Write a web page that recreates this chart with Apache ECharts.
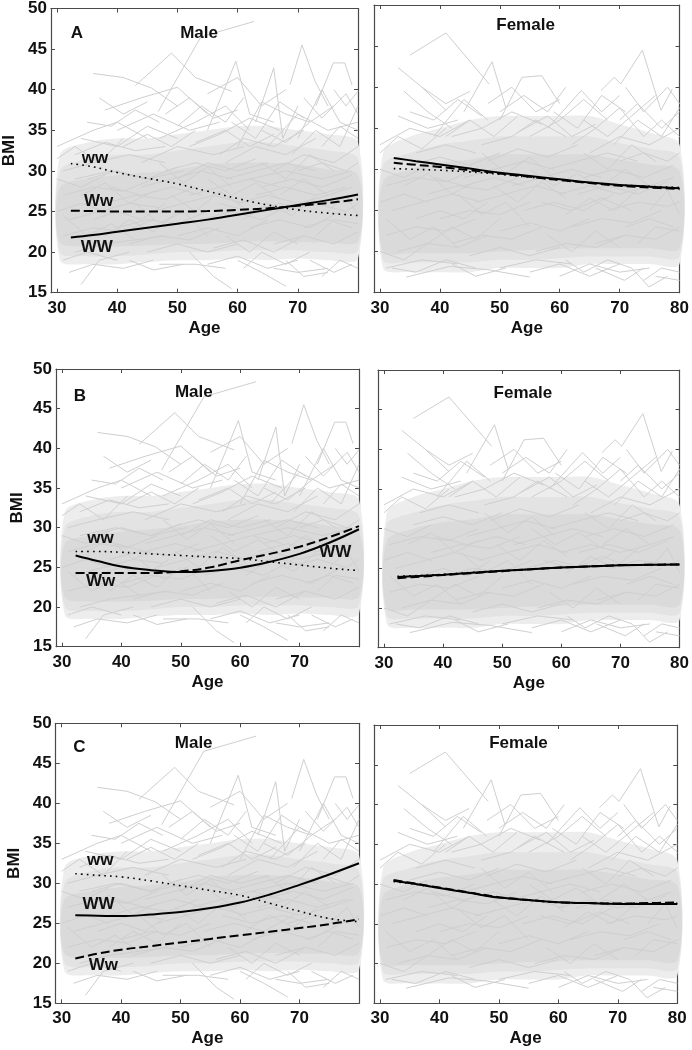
<!DOCTYPE html>
<html><head><meta charset="utf-8">
<script src="https://cdn.jsdelivr.net/npm/echarts@6/dist/echarts.min.js"></script>
<style>html,body{margin:0;padding:0;background:#fff}#c{width:692px;height:1050px}</style>
</head><body><div id="c"></div>
<script>
// ---------- DATA ----------
const curveAges = [32.3, 36, 40, 45, 50, 55, 60, 65, 70, 75, 80];
// Model A
const A_male_WW   = [21.8, 22.1, 22.5, 23.0, 23.5, 24.0, 24.6, 25.2, 25.8, 26.4, 27.1];
const A_male_Ww   = [25.1, 25.05, 25.0, 25.0, 25.0, 25.05, 25.2, 25.4, 25.7, 26.05, 26.5];
const A_male_ww   = [30.9, 30.5, 29.8, 29.1, 28.4, 27.5, 26.6, 25.8, 25.2, 24.8, 24.5];
const A_female_WW = [31.4, 31.0, 30.6, 30.1, 29.6, 29.2, 28.8, 28.4, 28.1, 27.9, 27.7];
const A_female_Ww = [30.8, 30.55, 30.3, 29.9, 29.5, 29.1, 28.7, 28.35, 28.0, 27.8, 27.6];
const A_female_ww = [30.1, 30.0, 29.9, 29.7, 29.4, 29.05, 28.7, 28.4, 28.1, 27.95, 27.8];
// Model B
const B_male_WW   = [26.5, 25.8, 25.1, 24.65, 24.4, 24.55, 24.95, 25.7, 26.7, 28.1, 29.8];
const B_male_Ww   = [24.3, 24.3, 24.3, 24.3, 24.5, 25.0, 25.9, 26.7, 27.6, 28.8, 30.2];
const B_male_ww   = [27.0, 27.0, 26.9, 26.7, 26.5, 26.3, 26.1, 25.7, 25.3, 24.9, 24.6];
const B_female_WW = [23.9, 24.05, 24.2, 24.45, 24.7, 24.9, 25.1, 25.25, 25.4, 25.45, 25.5];
const B_female_Ww = [23.75, 23.95, 24.15, 24.4, 24.65, 24.9, 25.1, 25.25, 25.4, 25.45, 25.5];
const B_female_ww = [24.0, 24.1, 24.25, 24.5, 24.7, 24.9, 25.1, 25.25, 25.4, 25.45, 25.5];
// Model C
const C_male_WW   = [26.0, 25.95, 25.9, 26.1, 26.4, 26.9, 27.6, 28.6, 29.8, 31.1, 32.5];
const C_male_Ww   = [20.6, 21.2, 21.7, 22.15, 22.6, 23.05, 23.5, 23.95, 24.4, 24.9, 25.5];
const C_male_ww   = [31.2, 31.0, 30.8, 30.3, 29.7, 29.1, 28.5, 27.5, 26.5, 25.6, 25.2];
const C_female_WW = [30.4, 30.0, 29.5, 28.9, 28.3, 28.0, 27.7, 27.6, 27.5, 27.5, 27.5];
const C_female_Ww = [30.5, 30.05, 29.55, 28.95, 28.35, 28.0, 27.7, 27.6, 27.55, 27.6, 27.7];
const C_female_ww = [30.3, 29.95, 29.5, 28.9, 28.3, 27.95, 27.7, 27.6, 27.55, 27.55, 27.6];

// Dense region of the individual trajectories (envelopes, three density levels)
const bandAges = [30.5, 35, 40, 45, 50, 55, 60, 65, 70, 75, 80];
const maleOuterLow  = [19, 18.5, 18.5, 18.8, 19, 19, 19.2, 19, 19.2, 19, 19.2];
const maleOuterHigh = [32, 33.5, 34, 34, 34.5, 35, 35.5, 35.5, 35, 34.5, 33.5];
const maleMidLow    = [20, 19.5, 19.5, 19.7, 20, 20, 20.2, 20.2, 20.2, 20, 20.2];
const maleMidHigh   = [30, 31.5, 32, 32, 32.5, 33, 33.5, 33.5, 33, 32.5, 31.5];
const maleInnerLow  = [21.2, 20.7, 20.7, 20.8, 21, 21, 21.2, 21.3, 21.2, 21.2, 21.3];
const maleInnerHigh = [28, 29, 29.5, 29.8, 30.2, 30.8, 31, 31, 30.8, 30.2, 29.5];
const femaleOuterLow  = [18, 17.5, 17.5, 17.5, 18, 18, 18, 18.5, 18.5, 18.5, 18.5];
const femaleOuterHigh = [32, 34, 35, 36, 36.5, 36.5, 36.5, 36.5, 35.5, 34.5, 33];
const femaleMidLow    = [19, 18.7, 18.7, 18.7, 19, 19, 19.2, 19.4, 19.4, 19.4, 19.4];
const femaleMidHigh   = [30.5, 32, 33, 33.5, 34, 34, 34, 34, 33.2, 32.5, 31.5];
const femaleInnerLow  = [20, 19.8, 19.8, 19.8, 20, 20.2, 20.3, 20.4, 20.4, 20.4, 20.4];
const femaleInnerHigh = [28.5, 30, 30.8, 31.2, 31.8, 31.8, 31.8, 31.8, 31.2, 30.6, 29.8];

// Individual trajectories [age, BMI]
const maleLines = [
 [[46.8,37.3],[53.9,46.5],[62.7,48.4]],
 [[43,40.5],[49,44.5],[53,41.5],[59,39.8]],
 [[36,42],[41,41.5],[45.7,40.2],[50,38]],
 [[55,35],[59.7,43.5],[62,37],[66,36]],
 [[63,36],[66,42.7],[67.5,34],[70,38]],
 [[68.7,40.6],[70.7,45.5],[72.9,41],[75,38]],
 [[73,38],[75.9,43.3],[77.8,43.3],[79,40.6]],
 [[38,37.5],[44,39],[50,40.3],[55,37]],
 [[55,39.5],[60,41.5],[64,38],[68,40]],
 [[60,33],[64,38.5],[68,37],[72,36]],
 [[30,33],[36,35],[40,36],[45,34]],
 [[47,34],[53,36],[58,38],[62,35]],
 [[65,33],[70,37],[75,35],[80,36]],
 [[34,34],[40,33],[45,35.5],[50,34]],
 [[70,34],[74,40],[77,36],[80,35]],
 [[40,35],[46,37],[52,35],[57,36]],
 [[52,33],[57,34.5],[62,36.5],[67,35]],
 [[33,32],[38,33.5],[43,32.5],[48,33]],
 [[57,32],[61,34],[66,33],[71,35]],
 [[74,33],[77,35.5],[80,34]],
 [[31,30],[36,31],[42,32],[48,31]],
 [[44,31],[50,33],[56,32],[61,33]],
 [[58,31],[63,33],[68,32],[73,34]],
 [[66,30],[71,32],[76,31],[80,33]],
 [[33,29],[39,30],[45,29],[51,30]],
 [[50,29],[55,31],[60,30],[65,31]],
 [[62,29],[68,30],[74,29],[79,30]],
 [[31,27],[36,28],[41,27.5],[46,29]],
 [[32,24],[37,25],[42,26],[47,25.5]],
 [[31,22],[36,23],[41,22.5],[46,24]],
 [[33,20],[38,21],[43,21.5],[48,22]],
 [[35,29],[40,30],[45,29],[50,30.5]],
 [[38,26],[43,27],[48,26.5],[53,28]],
 [[40,23],[45,24],[50,23.5],[55,25]],
 [[42,21],[47,22],[52,21.5],[57,23]],
 [[44,28],[49,29],[54,30],[59,29]],
 [[46,25],[51,26],[56,27],[61,26]],
 [[48,30],[53,31],[58,30],[63,31.5]],
 [[50,22],[55,23],[60,22],[65,24]],
 [[52,27],[57,28],[62,29],[67,28]],
 [[54,24],[59,25],[64,24],[69,26]],
 [[56,20.5],[61,21.5],[66,20],[71,22]],
 [[58,29],[63,30],[68,31],[73,30]],
 [[60,26],[65,27],[70,26],[75,27]],
 [[62,23],[67,24],[72,23],[77,25]],
 [[64,28],[69,29],[74,28],[79,29.5]],
 [[66,21],[71,22],[76,21],[80,22.5]],
 [[68,25],[73,26],[78,25],[80,26]],
 [[70,30],[74,31],[78,30],[80,31]],
 [[71,23],[75,24],[79,23]],
 [[30,25],[34,26],[38,25]],
 [[30,29],[34,28],[38,29.5]],
 [[36,24],[40,25],[44,24],[48,26]],
 [[45,20],[50,21],[55,20],[60,21]],
 [[57,26],[62,25],[67,26],[72,25]],
 [[63,27],[68,28],[73,27],[78,28]],
 [[39,28],[44,27],[49,28],[54,27]],
 [[34,16],[37,19],[42,20]],
 [[47,18.5],[53,18.5],[58,18]],
 [[52,20],[56,17],[59,15.5]],
 [[66,18],[70,17.5],[75,18]],
 [[60,19],[64,17.5],[68,15.8]],
 [[72,19],[76,17.5],[79,18.5]],
 [[31,19],[35,20],[40,19]],
 [[68,19],[71,17],[75,17.5]],
 [[30,31.5],[33,33],[37,31],[41,34]],
 [[35,36],[39,35.5],[43,37.5],[47,36]],
 [[41,33],[45,34.5],[49,33],[53,35]],
 [[48,37],[52,39],[56,36.5],[60,37.5]],
 [[53,33.5],[58,35],[62,33],[66,34.5]],
 [[59,36],[63,34],[67,38.5],[71,36.5]],
 [[64,35],[68,33.5],[72,36],[76,38]],
 [[69,32],[73,35],[77,33],[80,38]],
 [[71,39],[74,36.5],[78,39.5],[80,37]],
 [[76,40],[78,38],[80,39.8]],
 [[37,39],[41,37],[45,38.5]],
 [[50,35.5],[54,38],[58,36],[61,39]],
 [[32,17.5],[36,18.5],[41,18],[46,19]],
 [[55,18.5],[60,19.5],[65,18],[70,19]],
 [[74,17],[77,19],[80,18]],
 [[42,19],[46,17.8],[51,18.5]],
 [[61,18],[64,20],[68,18.5],[72,20]],
 [[38,22],[42,24],[46,22.5],[50,25]],
 [[43,26],[47,23.5],[51,25],[55,22]],
 [[49,27],[53,25],[57,27.5],[61,25.5]],
 [[55,29],[59,27],[63,28.5],[67,26.5]],
 [[61,24],[65,26],[69,24.5],[73,27]],
 [[67,27],[71,29],[75,27],[79,28]],
 [[73,22],[76,24],[80,23.5]],
 [[31,24.5],[35,22],[39,23.5],[43,21.5]],
 [[34,27],[38,28.5],[42,26],[46,27.5]],
 [[47,31],[51,28.5],[55,30.5],[59,28]],
 [[58,22],[62,20],[66,22.5],[70,21]],
 [[64,31],[68,29],[72,32],[76,30]],
 [[75,25],[78,27],[80,24.5]]
];
const femaleLines = [
 [[35,43.9],[41,46.6],[48.2,40.4]],
 [[33,42.4],[37,40],[41,37.2]],
 [[34,39.5],[38,37],[42,35]],
 [[44,37],[48.7,43.1],[51,37.5]],
 [[39,34],[44,38.5],[48,36]],
 [[50,36],[53.7,41.2],[57,41.4],[60,38]],
 [[58,35],[63.6,39.6],[67,37],[70,39]],
 [[66.9,39.6],[69.1,41.2],[70.2,40.4],[73.8,44.5],[76.9,37.2],[78.8,39.8]],
 [[70,36],[73,38],[77,35],[80,37]],
 [[30,33],[35,35],[40,34],[45,36]],
 [[42,34],[47,35],[52,37],[57,35.5]],
 [[55,34],[60,36],[64,38.5],[68,36]],
 [[62,33],[66,35],[70,37.5],[74,34]],
 [[33,36.5],[38,35],[43,36]],
 [[47,33],[52,34],[56,36],[61,34]],
 [[65,32],[70,34],[75,33],[80,35]],
 [[36,32],[41,33],[46,32]],
 [[74,34],[77,36],[80,34]],
 [[31,28],[36,29],[41,28.5],[46,30]],
 [[32,25],[37,26],[42,27],[47,26]],
 [[31,22],[36,23],[41,22.5],[46,24]],
 [[33,20],[38,21],[43,20.5],[48,22]],
 [[35,30.5],[40,31.5],[45,30.5],[50,32]],
 [[38,27],[43,28],[48,27.5],[53,29]],
 [[40,24],[45,25],[50,24.5],[55,26]],
 [[42,21],[47,22],[52,21.5],[57,23]],
 [[44,29],[49,30],[54,31],[59,30]],
 [[46,26],[51,27],[56,28],[61,27]],
 [[48,31],[53,32.5],[58,31.5],[63,33]],
 [[50,22.5],[55,23.5],[60,22.5],[65,24]],
 [[52,28],[57,29],[62,30],[67,29]],
 [[54,25],[59,26],[64,25],[69,27]],
 [[56,20],[61,21],[66,20.5],[71,22]],
 [[58,30],[63,31],[68,32],[73,31]],
 [[60,27],[65,28],[70,27],[75,28]],
 [[62,23],[67,24],[72,23.5],[77,25]],
 [[64,29],[69,30],[74,29],[79,30.5]],
 [[66,21],[71,22],[76,21.5],[80,23]],
 [[68,25],[73,26],[78,25.5],[80,26]],
 [[70,31],[74,32],[78,31],[80,32]],
 [[71,23],[75,24],[79,23]],
 [[30,26],[34,27],[38,26]],
 [[30,30],[34,29],[38,30.5]],
 [[36,24],[40,25],[44,24],[48,26]],
 [[45,19.5],[50,20.5],[55,19.5],[60,20.5]],
 [[57,26],[62,25],[67,26.5],[72,25]],
 [[63,27],[68,28],[73,27],[78,28.5]],
 [[39,29],[44,28],[49,29],[54,28]],
 [[34.4,16.9],[41.6,18.2],[48,17.8],[55,16.9]],
 [[66,18],[70.8,16.5],[74,18]],
 [[72,18],[74.9,15.7],[78,17]],
 [[31,18],[37,19],[43,18.5]],
 [[50,18],[56,19],[62,18.5]],
 [[60,17],[65,18.5],[70,17.5],[75,18]],
 [[76,17],[80,16.5]],
 [[30,32],[33,34],[37,32.5],[41,35]],
 [[35,37],[39,36],[43,38.5],[47,36.5]],
 [[41,34],[45,36],[49,34],[53,36.5]],
 [[48,38],[52,40],[56,37],[60,38.5]],
 [[53,34.5],[58,36.5],[62,34],[66,35.5]],
 [[59,37],[63,35],[67,39],[71,37]],
 [[64,36],[68,34],[72,36.5],[76,39]],
 [[69,33],[73,36],[77,34],[80,37.5]],
 [[71,40],[74,37],[78,40],[80,38]],
 [[37,40],[41,38],[45,39.5]],
 [[50,37],[54,39],[58,37],[61,40]],
 [[32,18],[36,17.5],[41,19],[46,18]],
 [[55,17.5],[60,18.5],[65,17],[70,18.5]],
 [[74,16.5],[77,18],[80,17.5]],
 [[42,18.5],[46,17],[51,18]],
 [[61,19],[64,17.5],[68,19],[72,18]],
 [[38,21],[42,23],[46,21.5],[50,24]],
 [[43,27],[47,24.5],[51,26],[55,23]],
 [[49,28],[53,26],[57,28.5],[61,26.5]],
 [[55,30],[59,28],[63,29.5],[67,27.5]],
 [[61,24.5],[65,26.5],[69,25],[73,27.5]],
 [[67,28],[71,30],[75,28],[79,29]],
 [[73,21],[76,23],[80,22.5]],
 [[31,24],[35,21.5],[39,23],[43,20.5]],
 [[34,28],[38,29.5],[42,27],[46,28.5]],
 [[47,32],[51,29.5],[55,31.5],[59,29]],
 [[58,22],[62,20],[66,22.5],[70,20.5]],
 [[64,32],[68,30],[72,33],[76,31]],
 [[75,25],[78,27.5],[80,24.5]],
 [[30,20],[34,19],[38,21]]
];

const maleTicks = [30, 40, 50, 60, 70];
const femaleTicks = [30, 40, 50, 60, 70, 80];

// ---------- LAYOUT ----------
const FONT = '"Liberation Sans", Arial, Helvetica, sans-serif';
const panels = [
 {g:{left:48.5, top:5.5, width:309.5, height:287.2}, male:true,  curves:[A_male_WW, A_male_Ww, A_male_ww], bmiGap:33,
  texts:[[33.3,46.9,'A'],[53.6,47,'Male'],[36.3,31.6,'ww'],[36.9,26.3,'Ww'],[36.6,20.6,'WW']]},
 {g:{left:374, top:5, width:308, height:287.7}, male:false, curves:[A_female_WW, A_female_Ww, A_female_ww],
  texts:[[54.3,47.5,'Female']]},
 {g:{left:56, top:369, width:303, height:277.7}, male:true, curves:[B_male_WW, B_male_Ww, B_male_ww], bmiGap:30,
  texts:[[33,46.6,'B'],[52.2,47.1,'Male'],[36.5,28.6,'ww'],[36.5,23.2,'Ww'],[76,26.9,'WW']]},
 {g:{left:378, top:370, width:303, height:277.7}, male:false, curves:[B_female_WW, B_female_Ww, B_female_ww],
  texts:[[53.5,47,'Female']]},
 {g:{left:55.7, top:723.3, width:303.3, height:280}, male:true, curves:[C_male_WW, C_male_Ww, C_male_ww], bmiGap:33,
  texts:[[33,47,'C'],[52.2,47.5,'Male'],[36.5,32.9,'ww'],[36.2,27.4,'WW'],[37,19.7,'Ww']]},
 {g:{left:374, top:725, width:303.3, height:278.3}, male:false, curves:[C_female_WW, C_female_Ww, C_female_ww],
  texts:[[53.3,47.7,'Female']]}
];

const AX = '#4a4a4a';
const labelStyle = {fontFamily: FONT, fontWeight: 'bold', fontSize: 17, color: '#111'};
const grid = [], xAxis = [], yAxis = [], series = [];

function bandSeries(ax, lows, highs, color, z) {
  return {
    type: 'custom', xAxisIndex: ax, yAxisIndex: ax, silent: true, animation: false, z: z,
    data: bandAges.map((a, j) => [a, lows[j], highs[j]]),
    encode: {x: 0, y: [1, 2]},
    renderItem: function (params, api) {
      if (params.dataIndex !== 0) return;
      const pts = [];
      for (let j = 0; j < bandAges.length; j++) pts.push(api.coord([bandAges[j], highs[j]]));
      for (let j = bandAges.length - 1; j >= 0; j--) pts.push(api.coord([bandAges[j], lows[j]]));
      return {type: 'polygon', shape: {points: pts, smooth: 0.3}, style: {fill: color}};
    }
  };
}

panels.forEach((p, i) => {
  grid.push(Object.assign({containLabel: false}, p.g));
  const ticks = p.male ? maleTicks : femaleTicks;
  const xb = 2 * i;
  xAxis.push({
    type: 'value', gridIndex: i, min: 29, max: 80, position: 'bottom',
    axisLine: {show: true, onZero: false, lineStyle: {color: AX, width: 1.2}},
    axisTick: {show: true, inside: true, length: 4, customValues: ticks, lineStyle: {color: AX}},
    axisLabel: Object.assign({show: true, margin: 7, customValues: ticks}, labelStyle),
    splitLine: {show: false},
    name: 'Age', nameLocation: 'middle', nameGap: 27, nameTextStyle: labelStyle
  });
  xAxis.push({
    type: 'value', gridIndex: i, min: 29, max: 80, position: 'top',
    axisLine: {show: true, onZero: false, lineStyle: {color: AX, width: 1.2}},
    axisTick: {show: true, inside: true, length: 4, customValues: ticks, lineStyle: {color: AX}},
    axisLabel: {show: false}, splitLine: {show: false}
  });
  yAxis.push({
    type: 'value', gridIndex: i, min: 15, max: 50, interval: 5, position: 'left',
    axisLine: {show: true, onZero: false, lineStyle: {color: AX, width: 1.2}},
    axisTick: {show: true, inside: true, length: 4, lineStyle: {color: AX}},
    axisLabel: Object.assign({show: p.male, margin: 4}, labelStyle),
    splitLine: {show: false},
    name: p.male ? 'BMI' : '', nameLocation: 'middle', nameRotate: 90, nameGap: p.bmiGap || 30,
    nameTextStyle: labelStyle
  });
  yAxis.push({
    type: 'value', gridIndex: i, min: 15, max: 50, interval: 5, position: 'right',
    axisLine: {show: true, onZero: false, lineStyle: {color: AX, width: 1.2}},
    axisTick: {show: true, inside: true, length: 4, lineStyle: {color: AX}},
    axisLabel: {show: false}, splitLine: {show: false}
  });
  const b = p.male
    ? [maleOuterLow, maleOuterHigh, maleMidLow, maleMidHigh, maleInnerLow, maleInnerHigh]
    : [femaleOuterLow, femaleOuterHigh, femaleMidLow, femaleMidHigh, femaleInnerLow, femaleInnerHigh];
  series.push(bandSeries(xb, b[0], b[1], '#ededed', 1));
  series.push(bandSeries(xb, b[2], b[3], '#e3e3e3', 1));
  series.push(bandSeries(xb, b[4], b[5], '#dadada', 1));
  series.push({
    type: 'lines', coordinateSystem: 'cartesian2d', xAxisIndex: xb, yAxisIndex: xb,
    polyline: true, silent: true, animation: false, z: 2, clip: true,
    data: (p.male ? maleLines : femaleLines).map(t => ({coords: t})),
    lineStyle: {color: '#cfcfcf', width: 1, opacity: 1, curveness: 0}
  });
  const styles = [
    {type: 'solid', width: 2},
    {type: [9, 4], width: 2},
    {type: [1.6, 4.2], width: 1.6}
  ];
  [2, 1, 0].forEach(k => {
    series.push({
      type: 'line', xAxisIndex: xb, yAxisIndex: xb, smooth: 0.4, showSymbol: false,
      silent: true, animation: false, z: 5 + (2 - k),
      data: curveAges.map((a, j) => [a, p.curves[k][j]]),
      lineStyle: Object.assign({color: '#000', cap: 'butt'}, styles[k])
    });
  });
});

const chart = echarts.init(document.getElementById('c'), null, {renderer: 'canvas'});
chart.setOption({animation: false, backgroundColor: '#fff', grid, xAxis, yAxis, series});

const graphic = [];
panels.forEach((p, i) => {
  p.texts.forEach(t => {
    const px = chart.convertToPixel({xAxisIndex: 2 * i, yAxisIndex: 2 * i}, [t[0], t[1]]);
    graphic.push({type: 'text', z: 20, x: px[0], y: px[1],
      style: {text: t[2], fill: '#111', font: 'bold 17px ' + FONT, align: 'center', verticalAlign: 'middle'}});
  });
});
chart.setOption({graphic});
</script></body></html>
